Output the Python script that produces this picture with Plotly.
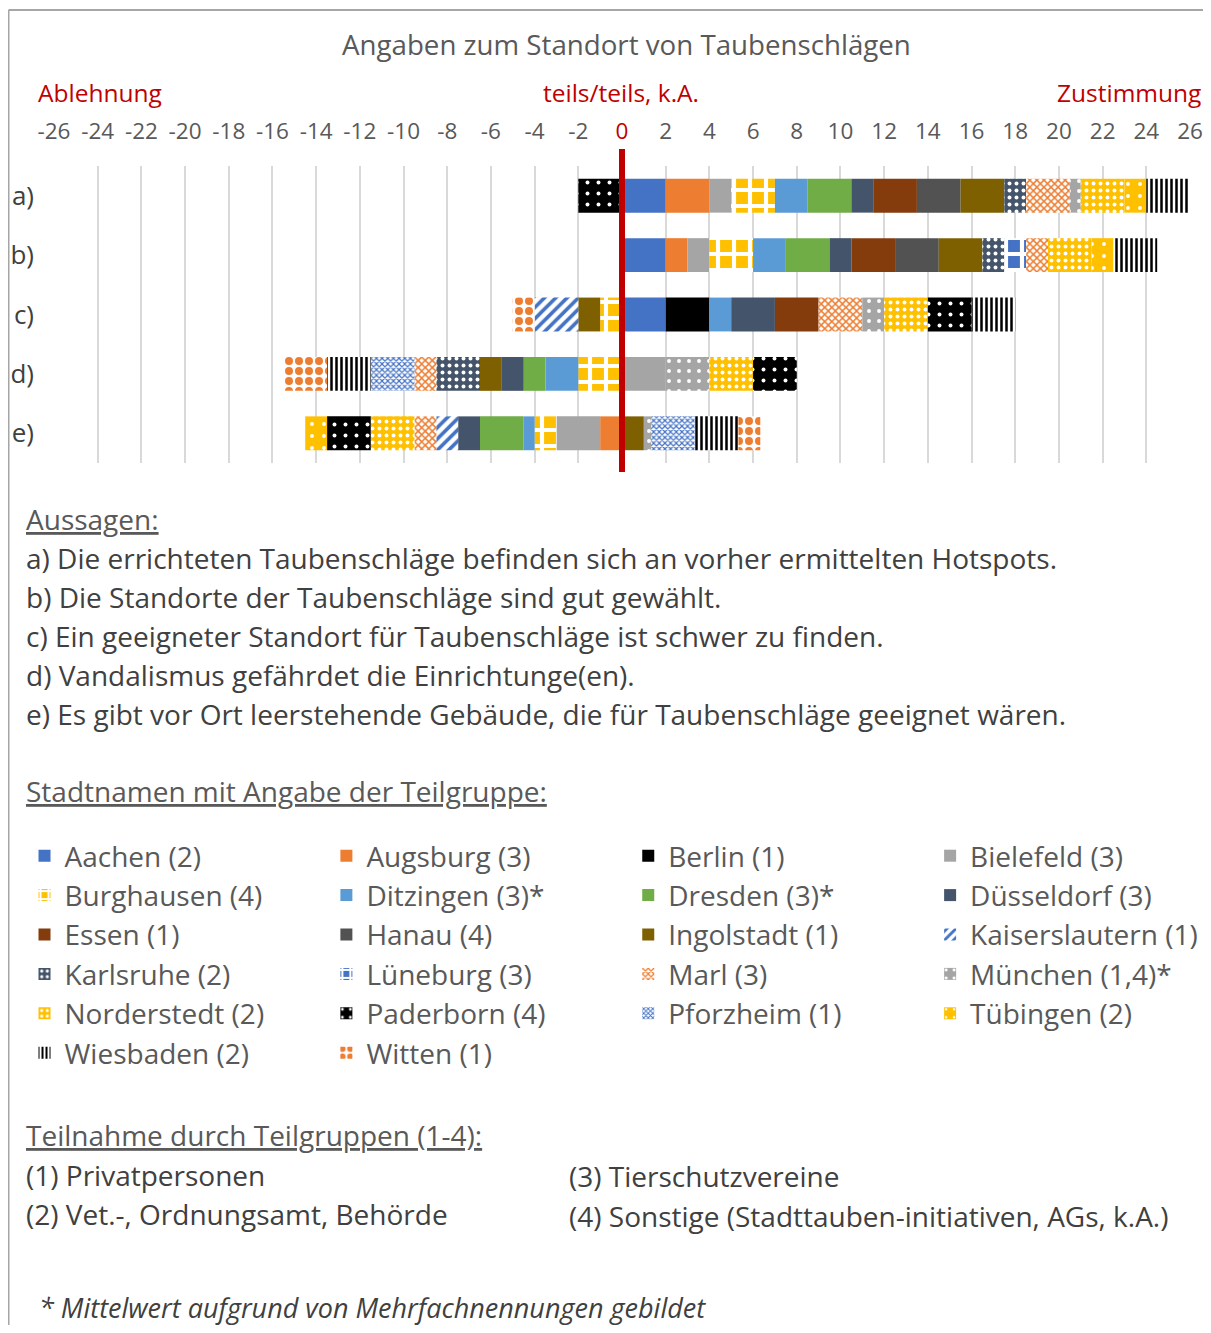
import plotly.graph_objects as go

# statements (y categories) and cities with subgroup
statements = ['a)', 'b)', 'c)', 'd)', 'e)']
cities = ['Aachen (2)', 'Augsburg (3)', 'Berlin (1)', 'Bielefeld (3)',
          'Burghausen (4)', 'Ditzingen (3)*', 'Dresden (3)*', 'Düsseldorf (3)',
          'Essen (1)', 'Hanau (4)', 'Ingolstadt (1)', 'Kaiserslautern (1)',
          'Karlsruhe (2)', 'Lüneburg (3)', 'Marl (3)', 'München (1,4)*',
          'Norderstedt (2)', 'Paderborn (4)', 'Pforzheim (1)', 'Tübingen (2)',
          'Wiesbaden (2)', 'Witten (1)']

# values per statement, same order as cities (negative = Ablehnung)
vals_a = [2, 2, 0, 1, 2, 1.5, 2, 1, 2, 2, 2, 0, 1, 0, 2, 0.5, 2, -2, 0, 1, 2, 0]
vals_b = [2, 1, 0, 1, 2, 1.5, 2, 1, 2, 2, 2, 0, 1, 1, 1, 0, 2, 0, 0, 1, 2, 0]
vals_c = [2, 0, 2, 0, -1, 1, 0, 2, 2, 0, -1, -2, 0, 0, 2, 1, 2, 2, 0, 0, 2, -1]
vals_d = [0, 0, 0, 2, -2, -1.5, -1, -1, 0, 0, -1, 0, -2, 0, -1, 2, 2, 2, -2, 0, -2, -2]
vals_e = [0, -1, 0, -2, -1, -0.5, -2, -1, 0, 0, 1, -1, 0, 0, -1, 0.33, -2, -2, 2, -1, 2, 1]

ticks = list(range(-26, 27, 2))

aussagen = [
    'a) Die errichteten Taubenschläge befinden sich an vorher ermittelten Hotspots.',
    'b) Die Standorte der Taubenschläge sind gut gewählt.',
    'c) Ein geeigneter Standort für Taubenschläge ist schwer zu finden.',
    'd) Vandalismus gefährdet die Einrichtunge(en).',
    'e) Es gibt vor Ort leerstehende Gebäude, die für Taubenschläge geeignet wären.',
]
gruppen_links = ['(1) Privatpersonen', '(2) Vet.-, Ordnungsamt, Behörde']
gruppen_rechts = ['(3) Tierschutzvereine', '(4) Sonstige (Stadttauben-initiativen, AGs, k.A.)']

BLUE, ORANGE, GRAY, YELLOW = '#4472C4', '#ED7D31', '#A5A5A5', '#FFC000'
LBLUE, GREEN, NAVY, BROWN = '#5B9BD5', '#70AD47', '#44546A', '#843C0C'
DGRAY, OLIVE, BLACK, WHITE = '#525252', '#7F6000', '#000000', '#FFFFFF'


def solid(c):
    return dict(color=c)


def pat(shape, fg, bg, size, sol):
    return dict(color=bg, pattern=dict(shape=shape, fgcolor=fg, bgcolor=bg,
                                       size=size, solidity=sol, fillmode='replace'))


styles = [
    solid(BLUE), solid(ORANGE), solid(BLACK), solid(GRAY),
    pat('+', WHITE, YELLOW, 16, 0.45), solid(LBLUE), solid(GREEN), solid(NAVY),
    solid(BROWN), solid(DGRAY), solid(OLIVE), pat('/', BLUE, WHITE, 8, 0.45),
    pat('.', WHITE, NAVY, 7, 0.25), pat('+', WHITE, BLUE, 16, 0.45),
    pat('x', ORANGE, WHITE, 5, 0.5), pat('.', WHITE, GRAY, 10, 0.12),
    pat('.', WHITE, YELLOW, 7, 0.25), pat('.', WHITE, BLACK, 11, 0.1),
    pat('x', BLUE, WHITE, 4, 0.5), pat('.', WHITE, YELLOW, 12, 0.08),
    pat('|', BLACK, WHITE, 5, 0.5), pat('.', ORANGE, WHITE, 10, 0.5),
]

# page offset (body margin) and plot area in reference pixels
OFF = 8
L, R, T, B = 53.5, 1190, 166, 463
W_FIG, H_FIG = 1211 - 2 * OFF, 1333 - 2 * OFF


def fx(px):
    return (px - L) / (R - L)


def fy(py):
    return (B - py) / (B - T)


FONT = 'Open Sans'
TXT = '#404040'
LEG = '#595959'
RED = '#C00000'

legend_names = ['legend', 'legend2', 'legend3', 'legend4']

fig = go.Figure()
for i, city in enumerate(cities):
    xs = [vals_a[i], vals_b[i], vals_c[i], vals_d[i], vals_e[i]]
    m = dict(styles[i])
    m['line'] = dict(width=0)
    fig.add_trace(go.Bar(x=xs, y=statements, orientation='h', name=city,
                         marker=m, hoverinfo='x+name', legend=legend_names[i % 4]))

ticktext = ['<span style="color:%s">0</span>' % RED if t == 0 else str(t) for t in ticks]

ann = []


def text(px, py, s, size=27, color=TXT, anchor='left', italic=False):
    if italic:
        s = '<i>' + s + '</i>'
    ann.append(dict(x=fx(px), y=fy(py), xref='paper', yref='paper', text=s,
                    showarrow=False, xanchor=anchor, yanchor='middle',
                    font=dict(family=FONT, size=size, color=color)))


text(626, 44, 'Angaben zum Standort von Taubenschlägen', 27.7, LEG, 'center')
text(35, 93, 'Ablehnung', 24.5, RED)
text(621, 93, 'teils/teils, k.A.', 24.5, RED, 'center')
text(1203, 93, 'Zustimmung', 24.5, RED, 'right')
text(23, 519, '<u>Aussagen:</u>', 28, LEG)
for k, s in enumerate(aussagen):
    text(23, 558 + 39 * k, s, 28)
text(23, 791, '<u>Stadtnamen mit Angabe der Teilgruppe:</u>', 28, LEG)
text(23, 1135, '<u>Teilnahme durch Teilgruppen (1-4):</u>', 28, LEG)
for k, s in enumerate(gruppen_links):
    text(23, 1175 + 39 * k, s, 28)
for k, s in enumerate(gruppen_rechts):
    text(567, 1176 + 40 * k, s, 28)
text(36, 1307, '* Mittelwert aufgrund von Mehrfachnennungen gebildet', 27, TXT, italic=True)

shapes = [
    dict(type='line', xref='x', yref='paper', x0=0, x1=0, y0=fy(472), y1=fy(149),
         line=dict(color=RED, width=6), layer='above'),
    dict(type='line', xref='paper', yref='paper', x0=fx(8), x1=fx(1215), y0=fy(10), y1=fy(10),
         line=dict(color='#A6A6A6', width=2)),
    dict(type='line', xref='paper', yref='paper', x0=fx(8), x1=fx(8), y0=fy(10), y1=fy(1340),
         line=dict(color='#A6A6A6', width=2)),
]

leg_common = dict(orientation='v', yanchor='top', xanchor='left', traceorder='normal',
                  font=dict(family=FONT, size=28, color=LEG), bgcolor='rgba(0,0,0,0)')
leg_layout = {}
for n, lx in zip(legend_names, [24, 326, 628, 930]):
    leg_layout[n] = dict(leg_common, x=fx(lx), y=fy(831))

fig.update_layout(
    width=W_FIG, height=H_FIG,
    margin=dict(l=L - OFF, r=W_FIG - (R - OFF), t=T - OFF, b=H_FIG - (B - OFF),
                autoexpand=False),
    paper_bgcolor='white', plot_bgcolor='white',
    barmode='relative', bargap=0.43,
    font=dict(family=FONT, color=TXT),
    xaxis=dict(range=[-26, 26], side='top', tickvals=ticks, ticktext=ticktext,
               showgrid=True, gridcolor='#D9D9D9', gridwidth=1.5, zeroline=False,
               showline=False, ticks='', ticklabelstandoff=22, ticklabeloverflow='allow',
               tickfont=dict(family=FONT, size=22.5, color=LEG), fixedrange=True),
    yaxis=dict(type='category', categoryorder='array', categoryarray=statements,
               autorange='reversed', showgrid=False, zeroline=False, showline=False,
               ticks='', ticklabelstandoff=19,
               tickfont=dict(family=FONT, size=26, color=TXT)),
    annotations=ann, shapes=shapes,
    **leg_layout,
)

fig.write_html('out.html')
